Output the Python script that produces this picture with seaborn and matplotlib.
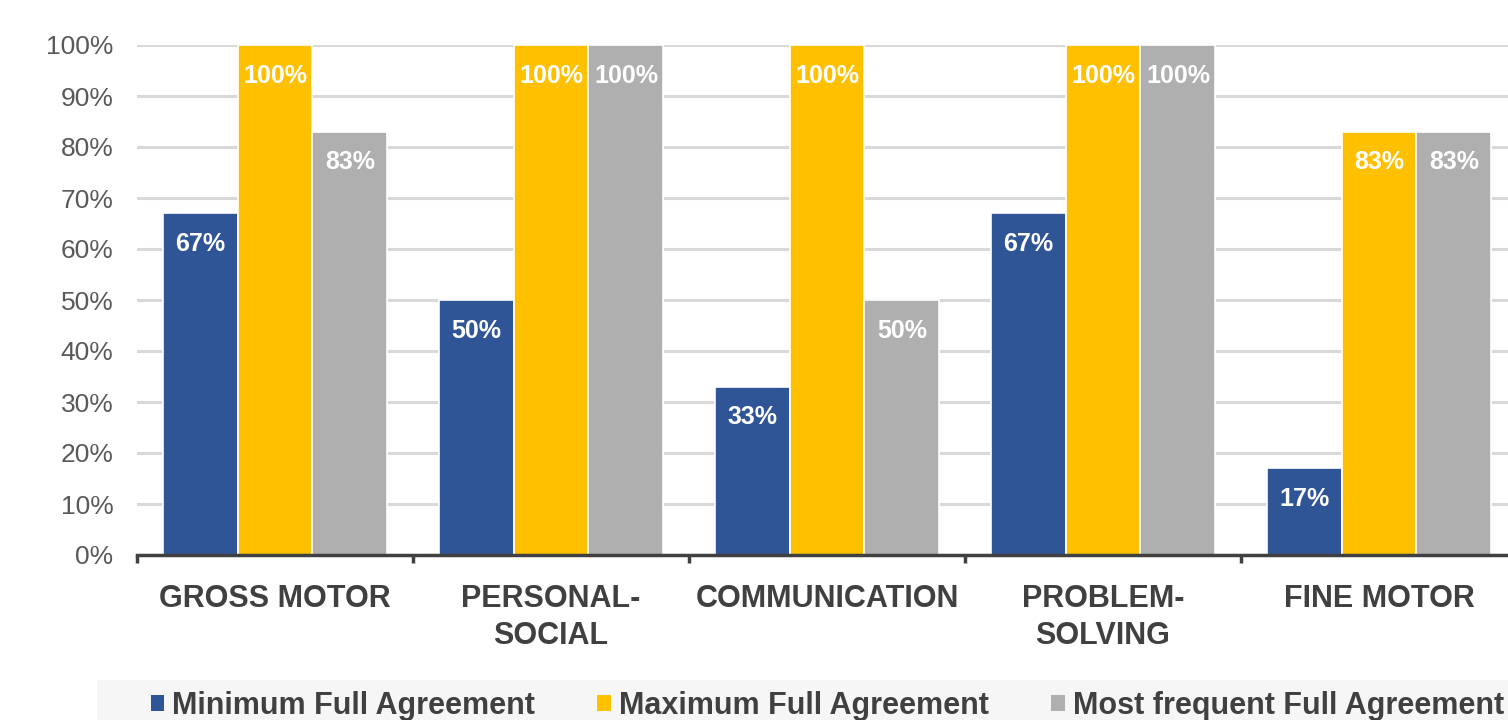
import matplotlib
matplotlib.use("Agg")
import matplotlib.pyplot as plt
import seaborn as sns
import pandas as pd
from matplotlib.patches import Rectangle, Patch

categories = ["GROSS MOTOR", "PERSONAL-\nSOCIAL", "COMMUNICATION", "PROBLEM-\nSOLVING", "FINE MOTOR"]
series = ["Minimum Full Agreement", "Maximum Full Agreement", "Most frequent Full Agreement"]
minimum = [67, 50, 33, 67, 17]
maximum = [100, 100, 100, 100, 83]
most_frequent = [83, 100, 50, 100, 83]
colors = ["#2F5597", "#FFC000", "#AFAFAF"]
yticks = [0, 10, 20, 30, 40, 50, 60, 70, 80, 90, 100]

rows = []
for s, vals in zip(series, [minimum, maximum, most_frequent]):
    for c, v in zip(categories, vals):
        rows.append({"category": c, "series": s, "value": v})
df = pd.DataFrame(rows)

sns.set_theme(style="white")
plt.rcParams["font.family"] = ["Liberation Sans", "DejaVu Sans"]

W, H = 1508, 720
fig = plt.figure(figsize=(W / 100, H / 100), dpi=100)
fig.patch.set_facecolor("white")

# legend band
fig.patches.append(Rectangle((97 / W, 0), 1 - 97 / W, 40 / H, transform=fig.transFigure,
                             facecolor="#F6F6F6", edgecolor="none", zorder=0))

ax = fig.add_axes([137 / W, 1 - 555 / H, (1517 - 137) / W, (555 - 45) / H])
ax.set_facecolor("none")
sns.barplot(data=df, x="category", y="value", hue="series", order=categories,
            hue_order=series, palette=colors, width=0.815, gap=0,
            edgecolor="white", linewidth=1.2, saturation=1, ax=ax, legend=False, zorder=2)

ax.set_ylim(0, 100)
ax.set_xlim(-0.5, len(categories) - 0.5)
ax.set_yticks(yticks)
ax.set_yticklabels([f"{t}%" for t in yticks], fontsize=19, color="#595959")
ax.yaxis.grid(True, color="#D9D9D9", linewidth=2.2, zorder=0)
ax.set_axisbelow(True)
ax.set_xlabel("")
ax.set_ylabel("")
for sp in ["top", "right", "left"]:
    ax.spines[sp].set_visible(False)
ax.spines["bottom"].set_color("#404040")
ax.spines["bottom"].set_linewidth(2.5)
ax.spines["bottom"].set_zorder(5)

ax.set_xticks(range(len(categories)))
ax.set_xticklabels(categories, fontsize=22, fontweight="bold", color="#404040",
                   linespacing=1.3)
ax.set_xticks([i - 0.5 for i in range(len(categories) + 1)], minor=True)
ax.tick_params(axis="x", which="major", length=0, pad=21, bottom=True)
ax.tick_params(axis="x", which="minor", length=6, width=2.5, color="#404040",
               direction="out", bottom=True)
ax.tick_params(axis="y", length=0, pad=17)

for container in ax.containers:
    for bar in container:
        h = bar.get_height()
        ax.annotate(f"{h:.0f}%", xy=(bar.get_x() + bar.get_width() / 2, h),
                    xytext=(0, -22), textcoords="offset points", ha="center", va="center",
                    fontsize=18, fontweight="bold", color="white", zorder=6)

handles = [Patch(facecolor=c, edgecolor="none") for c in colors]
fig.legend(handles, series, loc="center left", bbox_to_anchor=(123 / W, 1 - 706 / H),
           ncol=3, frameon=False, handlelength=0.45, handleheight=0.45,
           handletextpad=0.25, columnspacing=2.05,
           prop={"size": 22, "weight": "bold"}, labelcolor="#404040")

fig.savefig("out.png", dpi=100, facecolor="white")
